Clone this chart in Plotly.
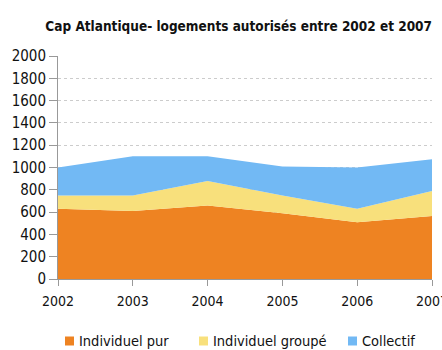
import plotly.graph_objects as go

years = ["2002", "2003", "2004", "2005", "2006", "2007"]
individuel_pur = [630, 610, 660, 590, 510, 565]
individuel_groupe = [120, 140, 220, 160, 120, 225]
collectif = [250, 350, 220, 260, 370, 285]
y_ticks = list(range(0, 2001, 200))

FONT = "DejaVu Sans Condensed"
W, H = 442, 350
ML, MR, MT, MB = 58, 10, 56, 71
PW, PH = W - ML - MR, H - MT - MB

def px_x(px):
    return (px - ML) / PW

def px_y(py):
    return (H - MB - py) / PH

fig = go.Figure()
series = [
    ("Individuel pur", individuel_pur, "#EE8322"),
    ("Individuel groupé", individuel_groupe, "#F8E07C"),
    ("Collectif", collectif, "#72B9F4"),
]
for name, vals, col in series:
    fig.add_trace(go.Scatter(
        x=years, y=vals, name=name, mode="lines",
        stackgroup="one", line=dict(width=0, color=col),
        fillcolor=col, showlegend=False,
    ))

# manual legend (one row, like the reference)
legend_x = [65, 199, 348]
legend_cy = 341
for (name, _, col), lx in zip(series, legend_x):
    fig.add_shape(type="rect", xref="paper", yref="paper",
                  x0=px_x(lx), x1=px_x(lx + 9),
                  y0=px_y(legend_cy + 4.5), y1=px_y(legend_cy - 4.5),
                  fillcolor=col, line=dict(width=0))
    fig.add_annotation(text=name, xref="paper", yref="paper",
                       x=px_x(lx + 12), y=px_y(legend_cy),
                       xanchor="left", yanchor="middle", showarrow=False,
                       font=dict(family=FONT, size=14.5, color="#111"))

fig.update_layout(
    width=W, height=H,
    margin=dict(l=ML, r=MR, t=MT, b=MB, autoexpand=False),
    paper_bgcolor="white", plot_bgcolor="white",
    font=dict(family=FONT, size=13, color="#222"),
    title=dict(text="<b>Cap Atlantique- logements autorisés entre 2002 et 2007</b>",
               x=0.54, xanchor="center", y=0.925, yanchor="middle",
               font=dict(family=FONT, size=13.5, color="#111")),
    showlegend=False,
    xaxis=dict(
        type="category", range=[0, 5], showgrid=False,
        showline=True, linecolor="#999", linewidth=1,
        ticks="outside", ticklen=6, tickcolor="#999",
        ticklabelstandoff=3,
        tickfont=dict(family=FONT, size=14, color="#111"),
        fixedrange=True,
    ),
    yaxis=dict(
        range=[0, 2000], tickvals=y_ticks,
        showgrid=True, gridcolor="#ccc", griddash="dot", gridwidth=1,
        showline=True, linecolor="#999", linewidth=1,
        ticks="outside", ticklen=8, tickcolor="#999",
        tickfont=dict(family=FONT, size=15, color="#111"),
        zeroline=False,
    ),
)

fig.write_html("out.html")
